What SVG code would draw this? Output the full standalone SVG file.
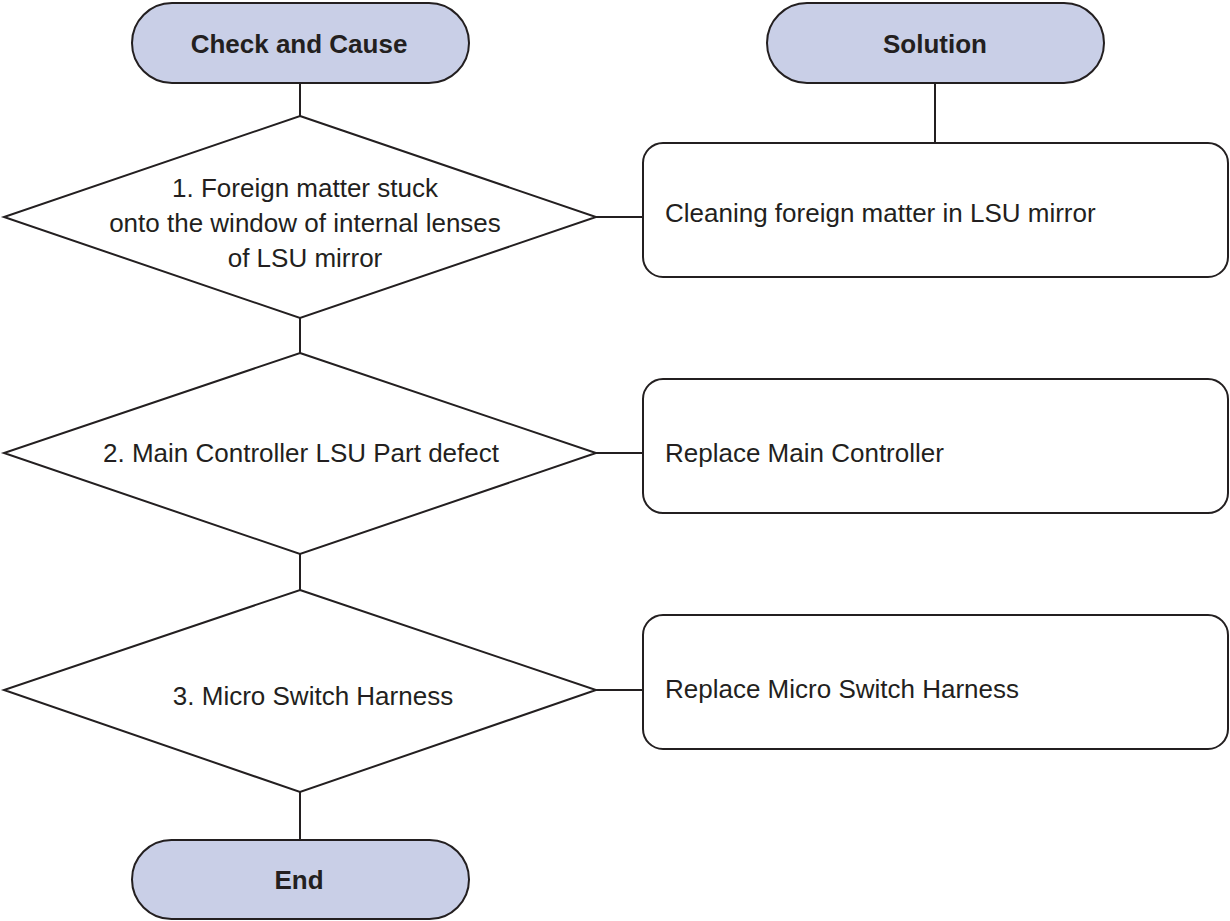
<svg xmlns="http://www.w3.org/2000/svg" width="1230" height="921" viewBox="0 0 1230 921">
<style>
.term{fill:#c9cfe7;stroke:#231f20;stroke-width:2}
.dia{fill:#ffffff;stroke:#231f20;stroke-width:2;stroke-linejoin:miter}
.box{fill:#ffffff;stroke:#231f20;stroke-width:2}
.conn{stroke:#231f20;stroke-width:2;fill:none}
.hdr{font-family:"Liberation Sans",Arial,sans-serif;font-weight:bold;font-size:26px;fill:#231f20;text-anchor:middle}
.txt{font-family:"Liberation Sans",Arial,sans-serif;font-size:26px;fill:#231f20}
.mid{text-anchor:middle}
</style>
<rect width="1230" height="921" fill="#ffffff"/>
<g id="connectors">
<line class="conn" x1="300" y1="83" x2="300" y2="116"/>
<line class="conn" x1="300" y1="318" x2="300" y2="353"/>
<line class="conn" x1="300" y1="554" x2="300" y2="590"/>
<line class="conn" x1="300" y1="792" x2="300" y2="840"/>
<line class="conn" x1="935" y1="83" x2="935" y2="143"/>
<line class="conn" x1="596" y1="217" x2="643" y2="217"/>
<line class="conn" x1="596" y1="453" x2="643" y2="453"/>
<line class="conn" x1="596" y1="690" x2="643" y2="690"/>
</g>
<g id="check-and-cause">
<rect class="term" x="132" y="3" width="337" height="80" rx="40" ry="40"/>
<text class="hdr" x="299" y="53">Check and Cause</text>
</g>
<g id="solution">
<rect class="term" x="767" y="3" width="337" height="80" rx="40" ry="40"/>
<text class="hdr" x="935" y="53">Solution</text>
</g>
<g id="cause1">
<polygon class="dia" points="300,116 596,217 300,318 4,217"/>
<text class="txt mid" x="305" y="197">1. Foreign matter stuck</text>
<text class="txt mid" x="305" y="232">onto the window of internal lenses</text>
<text class="txt mid" x="305" y="267">of LSU mirror</text>
</g>
<g id="solution1">
<rect class="box" x="643" y="143" width="585" height="134" rx="20" ry="20"/>
<text class="txt" x="665" y="222">Cleaning foreign matter in LSU mirror</text>
</g>
<g id="cause2">
<polygon class="dia" points="300,353 596,453 300,554 4,453"/>
<text class="txt mid" x="301" y="462">2. Main Controller LSU Part defect</text>
</g>
<g id="solution2">
<rect class="box" x="643" y="379" width="585" height="134" rx="20" ry="20"/>
<text class="txt" x="665" y="462">Replace Main Controller</text>
</g>
<g id="cause3">
<polygon class="dia" points="300,590 596,690 300,792 4,690"/>
<text class="txt mid" x="313" y="705">3. Micro Switch Harness</text>
</g>
<g id="solution3">
<rect class="box" x="643" y="615" width="585" height="134" rx="20" ry="20"/>
<text class="txt" x="665" y="698">Replace Micro Switch Harness</text>
</g>
<g id="end">
<rect class="term" x="132" y="840" width="337" height="79" rx="39.5" ry="39.5"/>
<text class="hdr" x="299" y="889">End</text>
</g>
</svg>
